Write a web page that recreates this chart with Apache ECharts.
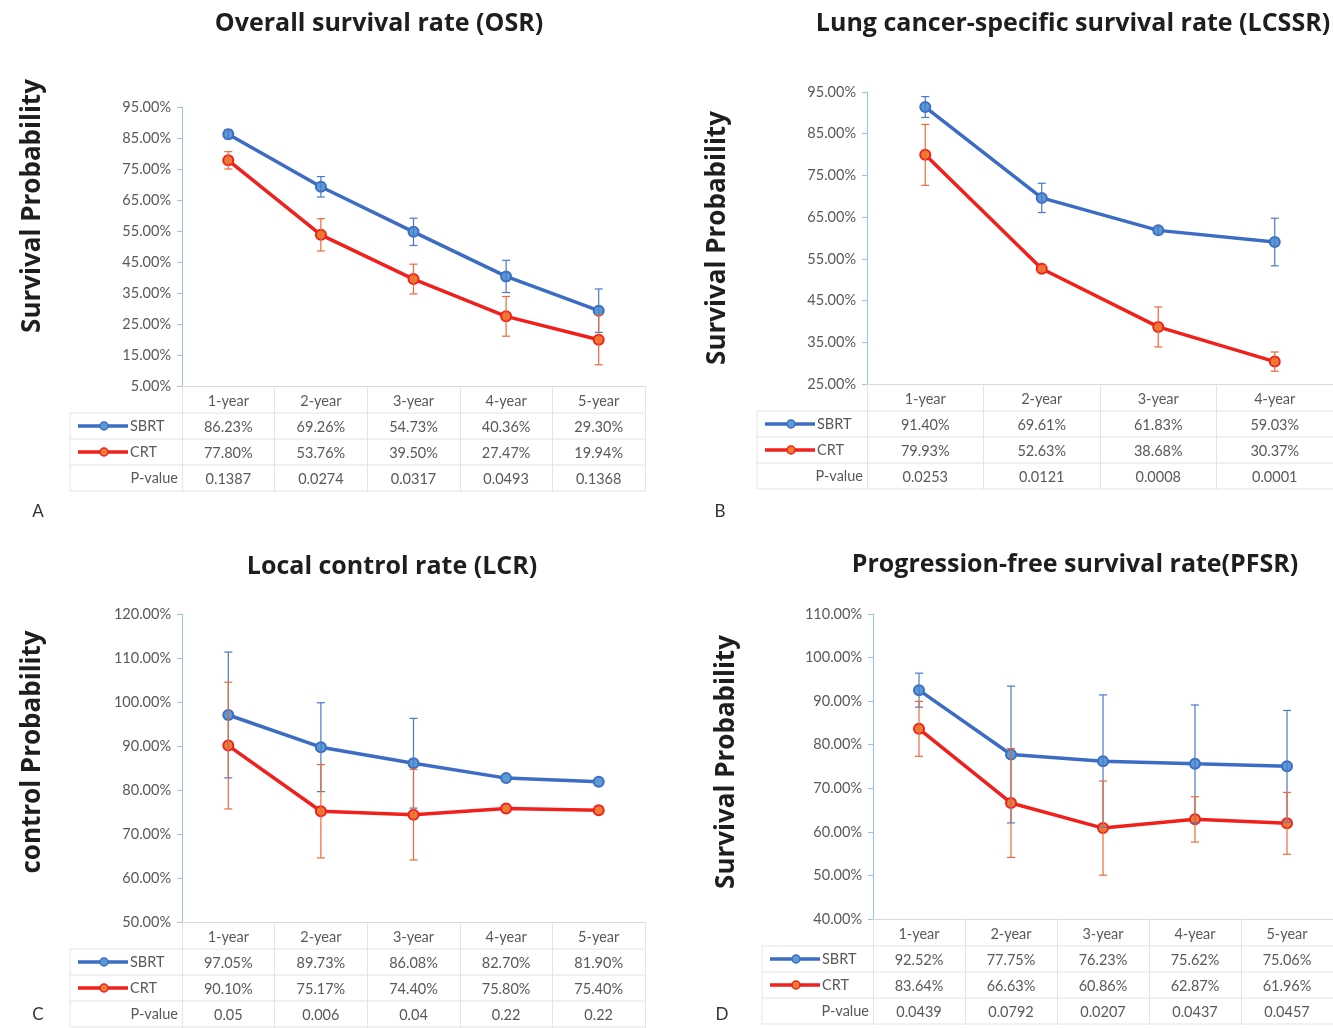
<!DOCTYPE html>
<html>
<head>
<meta charset="utf-8">
<script src="https://cdn.jsdelivr.net/npm/echarts@6/dist/echarts.min.js"></script>
<style>
  html, body { margin: 0; padding: 0; background: #fff; }
  #survivalChart { width: 1333px; height: 1028px; }
</style>
</head>
<body>
<div id="survivalChart"></div>
<script>
// ---- data ----
var years = ['1-year', '2-year', '3-year', '4-year', '5-year'];
var groupNames = ['SBRT', 'CRT'];
var pLabel = 'P-value';

// A - overall survival
var osrSbrt = [86.23, 69.26, 54.73, 40.36, 29.30];
var osrCrt = [77.80, 53.76, 39.50, 27.47, 19.94];
var osrP = ['0.1387', '0.0274', '0.0317', '0.0493', '0.1368'];
var osrSbrtErr = [1.5, 3.3, 4.4, 5.2, 7.0];
var osrCrtErr = [2.8, 5.2, 4.8, 6.4, 8.1];
var osrTicks = [5, 15, 25, 35, 45, 55, 65, 75, 85, 95];

// B - lung cancer specific survival
var lcssrSbrt = [91.40, 69.61, 61.83, 59.03];
var lcssrCrt = [79.93, 52.63, 38.68, 30.37];
var lcssrP = ['0.0253', '0.0121', '0.0008', '0.0001'];
var lcssrSbrtErr = [2.5, 3.5, 1.0, 5.7];
var lcssrCrtErr = [7.3, 0.6, 4.8, 2.3];
var lcssrTicks = [25, 35, 45, 55, 65, 75, 85, 95];

// C - local control
var lcrSbrt = [97.05, 89.73, 86.08, 82.70, 81.90];
var lcrCrt = [90.10, 75.17, 74.40, 75.80, 75.40];
var lcrP = ['0.05', '0.006', '0.04', '0.22', '0.22'];
var lcrSbrtErr = [14.3, 10.1, 10.2, 0, 0];
var lcrCrtErr = [14.4, 10.6, 10.3, 0, 0];
var lcrTicks = [50, 60, 70, 80, 90, 100, 110, 120];

// D - progression free survival
var pfsrSbrt = [92.52, 77.75, 76.23, 75.62, 75.06];
var pfsrCrt = [83.64, 66.63, 60.86, 62.87, 61.96];
var pfsrP = ['0.0439', '0.0792', '0.0207', '0.0437', '0.0457'];
var pfsrSbrtErr = [3.9, 15.7, 15.2, 13.5, 12.8];
var pfsrCrtErr = [6.3, 12.5, 10.8, 5.2, 7.1];
var pfsrTicks = [40, 50, 60, 70, 80, 90, 100, 110];

var panels = [
    {letter: 'A', title: 'Overall survival rate (OSR)', yName: 'Survival Probability',
     cats: years, sbrt: osrSbrt, crt: osrCrt, p: osrP, sbrtErr: osrSbrtErr, crtErr: osrCrtErr, ticks: osrTicks,
     grid: {left: 182, top: 107, width: 463, height: 279}, tableLeft: 70,
     titleX: 374, titleY: 22, yNameX: 33, yNameY: 206, letterX: 38, letterY: 512, legX: 78},
    {letter: 'B', title: 'Lung cancer-specific survival rate (LCSSR)', yName: 'Survival Probability',
     cats: years.slice(0, 4), sbrt: lcssrSbrt, crt: lcssrCrt, p: lcssrP, sbrtErr: lcssrSbrtErr, crtErr: lcssrCrtErr, ticks: lcssrTicks,
     grid: {left: 867, top: 92, width: 472, height: 292}, tableLeft: 757,
     titleX: 1068, titleY: 22, yNameX: 718, yNameY: 238, letterX: 720, letterY: 512, legX: 765},
    {letter: 'C', title: 'Local control rate (LCR)', yName: 'control Probability',
     cats: years, sbrt: lcrSbrt, crt: lcrCrt, p: lcrP, sbrtErr: lcrSbrtErr, crtErr: lcrCrtErr, ticks: lcrTicks,
     grid: {left: 182, top: 614, width: 463, height: 308}, tableLeft: 70,
     titleX: 387, titleY: 565, yNameX: 33, yNameY: 752, letterX: 38, letterY: 1015, legX: 78},
    {letter: 'D', title: 'Progression-free survival rate(PFSR)', yName: 'Survival Probability',
     cats: years, sbrt: pfsrSbrt, crt: pfsrCrt, p: pfsrP, sbrtErr: pfsrSbrtErr, crtErr: pfsrCrtErr, ticks: pfsrTicks,
     grid: {left: 873, top: 614, width: 474, height: 305}, tableLeft: 762,
     titleX: 1070, titleY: 563, yNameX: 727, yNameY: 762, letterX: 722, letterY: 1015, legX: 770}
];

var FONT = 'Lato, "Open Sans", sans-serif';
var HEAD_FONT = '"Open Sans", Lato, sans-serif';
var TEXT_GRAY = '#595959';
var GRID_LINE = '#e4e4e4';
var ROW_H = 26;
var SBRT_LINE = '#3c6cc4', SBRT_DOT = '#5b9bd5';
var CRT_LINE = '#f0201c', CRT_DOT = '#ed7d31';

function errorBars(params, api) {
    var lo = api.value(1), hi = api.value(2);
    if (hi - lo <= 0) return null;
    var top = api.coord([api.value(0), hi]);
    var bot = api.coord([api.value(0), lo]);
    var c = api.visual('color');
    var s = {stroke: c, lineWidth: 1.2};
    return {
        type: 'group',
        children: [
            {type: 'line', shape: {x1: top[0], y1: top[1], x2: bot[0], y2: bot[1]}, style: s},
            {type: 'line', shape: {x1: top[0] - 4, y1: top[1], x2: top[0] + 4, y2: top[1]}, style: s},
            {type: 'line', shape: {x1: bot[0] - 4, y1: bot[1], x2: bot[0] + 4, y2: bot[1]}, style: s}
        ]
    };
}

var titles = [], grids = [], xAxes = [], yAxes = [], series = [], graphics = [];

panels.forEach(function (pn, i) {
    var g = pn.grid;
    var axisY = g.top + g.height;
    var right = g.left + g.width;

    titles.push({
        text: pn.title, left: pn.titleX, top: pn.titleY - 16, textAlign: 'center',
        textStyle: {fontFamily: HEAD_FONT, fontSize: 25, fontWeight: 'bold', color: '#1e1e1e'}
    });
    grids.push({left: g.left, top: g.top, width: g.width, height: g.height});

    xAxes.push({
        type: 'category', gridIndex: i, data: pn.cats, boundaryGap: true,
        axisLine: {lineStyle: {color: '#d9d9d9', width: 1}},
        axisTick: {show: true, interval: 0, length: ROW_H * 4 + 2, lineStyle: {color: GRID_LINE}},
        axisLabel: {
            interval: 0, margin: 2, color: TEXT_GRAY, fontFamily: FONT, fontSize: 14.5, lineHeight: ROW_H,
            formatter: function (v, idx) {
                return [v, pn.sbrt[idx].toFixed(2) + '%', pn.crt[idx].toFixed(2) + '%', pn.p[idx]].join('\n');
            }
        }
    });
    yAxes.push({
        type: 'value', gridIndex: i,
        min: pn.ticks[0], max: pn.ticks[pn.ticks.length - 1],
        axisLine: {show: true, lineStyle: {color: '#9cc2e5', width: 1}},
        axisTick: {show: true, length: 5, customValues: pn.ticks, lineStyle: {color: '#9cc2e5'}},
        splitLine: {show: false},
        axisLabel: {
            customValues: pn.ticks, margin: 11, color: TEXT_GRAY, fontFamily: FONT, fontSize: 14.5,
            formatter: function (v) { return v.toFixed(2) + '%'; }
        }
    });

    var errData = function (vals, errs) {
        return vals.map(function (v, k) { return [k, v - errs[k], v + errs[k]]; });
    };
    series.push(
        {name: groupNames[0], type: 'line', xAxisIndex: i, yAxisIndex: i, data: pn.sbrt,
         symbol: 'circle', symbolSize: 10, lineStyle: {color: SBRT_LINE, width: 3.5},
         itemStyle: {color: SBRT_DOT, borderColor: SBRT_LINE, borderWidth: 2}, z: 3},
        {name: groupNames[1], type: 'line', xAxisIndex: i, yAxisIndex: i, data: pn.crt,
         symbol: 'circle', symbolSize: 10, lineStyle: {color: CRT_LINE, width: 3.5},
         itemStyle: {color: CRT_DOT, borderColor: CRT_LINE, borderWidth: 2}, z: 3},
        {type: 'custom', xAxisIndex: i, yAxisIndex: i, renderItem: errorBars,
         itemStyle: {color: '#4a78c8'}, data: errData(pn.sbrt, pn.sbrtErr), z: 4},
        {type: 'custom', xAxisIndex: i, yAxisIndex: i, renderItem: errorBars,
         itemStyle: {color: '#ec6a3a'}, data: errData(pn.crt, pn.crtErr), z: 4}
    );

    // table lines
    for (var r = 1; r <= 4; r++) {
        graphics.push({type: 'line', silent: true, z: 0,
            shape: {x1: pn.tableLeft, y1: axisY + 1 + r * ROW_H, x2: right, y2: axisY + 1 + r * ROW_H},
            style: {stroke: GRID_LINE, lineWidth: 1}});
    }
    graphics.push({type: 'line', silent: true, z: 0,
        shape: {x1: pn.tableLeft, y1: axisY + 1 + ROW_H, x2: pn.tableLeft, y2: axisY + 1 + 4 * ROW_H},
        style: {stroke: GRID_LINE, lineWidth: 1}});

    // row headers (legend keys)
    var rowColors = [[SBRT_LINE, SBRT_DOT], [CRT_LINE, CRT_DOT]];
    groupNames.forEach(function (nm, k) {
        var cy = axisY + 14 + (k + 1) * ROW_H;
        graphics.push(
            {type: 'line', shape: {x1: pn.legX, y1: cy, x2: pn.legX + 50, y2: cy},
             style: {stroke: rowColors[k][0], lineWidth: 3.5}},
            {type: 'circle', shape: {cx: pn.legX + 26, cy: cy, r: 4},
             style: {fill: rowColors[k][1], stroke: rowColors[k][0], lineWidth: 1.5}},
            {type: 'text', x: pn.legX + 52, y: cy,
             style: {text: nm, fill: TEXT_GRAY, font: '14.5px ' + FONT, align: 'left', verticalAlign: 'middle'}}
        );
    });
    graphics.push({type: 'text', x: g.left - 4, y: axisY + 14 + 3 * ROW_H,
        style: {text: pLabel, fill: TEXT_GRAY, font: '14.5px ' + FONT, align: 'right', verticalAlign: 'middle'}});

    // axis title and panel letter
    graphics.push(
        {type: 'text', x: pn.yNameX, y: pn.yNameY, rotation: Math.PI / 2,
         style: {text: pn.yName, fill: '#1e1e1e', font: 'bold 26px ' + HEAD_FONT, align: 'center', verticalAlign: 'middle'}},
        {type: 'text', x: pn.letterX, y: pn.letterY,
         style: {text: pn.letter, fill: '#333', font: '17px ' + FONT, align: 'center', verticalAlign: 'middle'}}
    );
});

var survivalChart = echarts.init(document.getElementById('survivalChart'));
survivalChart.setOption({
    backgroundColor: '#fff',
    animation: false,
    title: titles,
    grid: grids,
    xAxis: xAxes,
    yAxis: yAxes,
    series: series,
    graphic: graphics
});
</script>
</body>
</html>
